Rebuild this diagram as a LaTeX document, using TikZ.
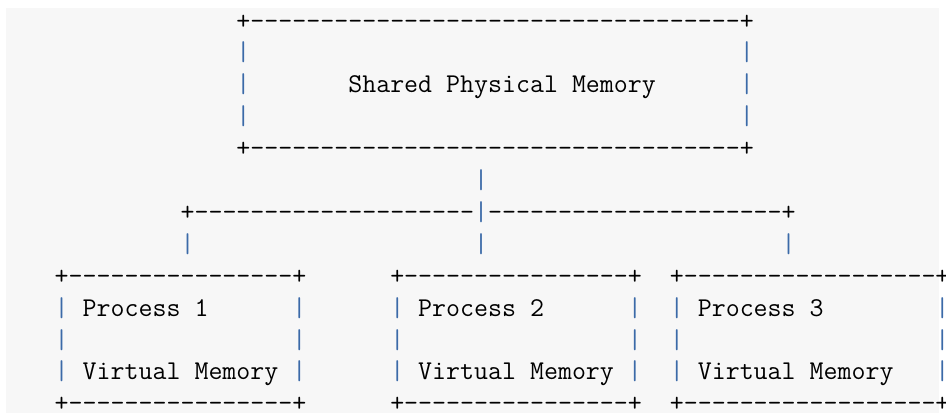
\documentclass[tikz,border=0pt]{standalone}
\definecolor{codebg}{HTML}{F7F7F7}
\definecolor{pipeblue}{HTML}{3B6AA8}
\newlength\asciicw
% a run of n hyphens, each braced so no dash ligature can form
\newcommand\dashrun[1]{\ifnum#1>0 {-}\expandafter\dashrun\expandafter{\the\numexpr#1-1\relax}\fi}
% monospaced cell: 13.98pt wide, 31.9pt per line
\AtBeginDocument{%
  \settowidth\asciicw{\ttfamily\fontsize{20pt}{24pt}\selectfont M}%
  \pgfmathsetmacro\asciifs{20*13.98/\asciicw}%
  \global\let\asciifs\asciifs}
\newcommand\asciifont{\ttfamily\fontsize{\asciifs pt}{31.9pt}\selectfont}
\tikzset{
  ascii/.style={anchor=base west, inner sep=0pt, outer sep=0pt, font=\asciifont, text=black},
  pipe/.style={ascii, text=pipeblue},
}
\begin{document}
\begin{tikzpicture}[x=13.98pt, y=-31.9pt]
\useasboundingbox (0pt,0pt) rectangle (946pt,-413pt);
\fill[white] (0pt,0pt) rectangle (946pt,-413pt);
\fill[codebg] (6pt,-8pt) rectangle (939pt,-413pt);
\begin{scope}[shift={(12.8pt,-29pt)}]
  % shared physical memory block
  \node[ascii] (mem-top) at (16,0) {+\dashrun{35}+};
  \node[pipe]  (mem-l1)  at (16,1) {|};
  \node[pipe]  (mem-r1)  at (52,1) {|};
  \node[pipe]  (mem-l2)  at (16,2) {|};
  \node[ascii] (mem-label) at (24,2) {Shared Physical Memory};
  \node[pipe]  (mem-r2)  at (52,2) {|};
  \node[pipe]  (mem-l3)  at (16,3) {|};
  \node[pipe]  (mem-r3)  at (52,3) {|};
  \node[ascii] (mem-bottom) at (16,4) {+\dashrun{35}+};
  % trunk and distribution bus
  \node[pipe]  (trunk)     at (33,5) {|};
  \node[ascii] (bus-left)  at (12,6) {+\dashrun{20}};
  \node[pipe]  (bus-mid)   at (33,6) {|};
  \node[ascii] (bus-right) at (34,6) {\dashrun{21}+};
  \node[pipe]  (drop-1)    at (12,7) {|};
  \node[pipe]  (drop-2)    at (33,7) {|};
  \node[pipe]  (drop-3)    at (55,7) {|};
  % process boxes: index / left column / number of dashes
  \foreach \i/\L/\n in {1/3/16, 2/27/16, 3/47/18}{
    \pgfmathtruncatemacro\R{\L+\n+1}
    \pgfmathtruncatemacro\T{\L+2}
    \node[ascii] (p\i-top)    at (\L,8)  {+\dashrun{\n}+};
    \node[pipe]  (p\i-l1)     at (\L,9)  {|};
    \node[ascii] (p\i-name)   at (\T,9)  {Process \i};
    \node[pipe]  (p\i-r1)     at (\R,9)  {|};
    \node[pipe]  (p\i-l2)     at (\L,10) {|};
    \node[pipe]  (p\i-r2)     at (\R,10) {|};
    \node[pipe]  (p\i-l3)     at (\L,11) {|};
    \node[ascii] (p\i-kind)   at (\T,11) {Virtual Memory};
    \node[pipe]  (p\i-r3)     at (\R,11) {|};
    \node[ascii] (p\i-bottom) at (\L,12) {+\dashrun{\n}+};
  }
\end{scope}
\end{tikzpicture}
\end{document}
